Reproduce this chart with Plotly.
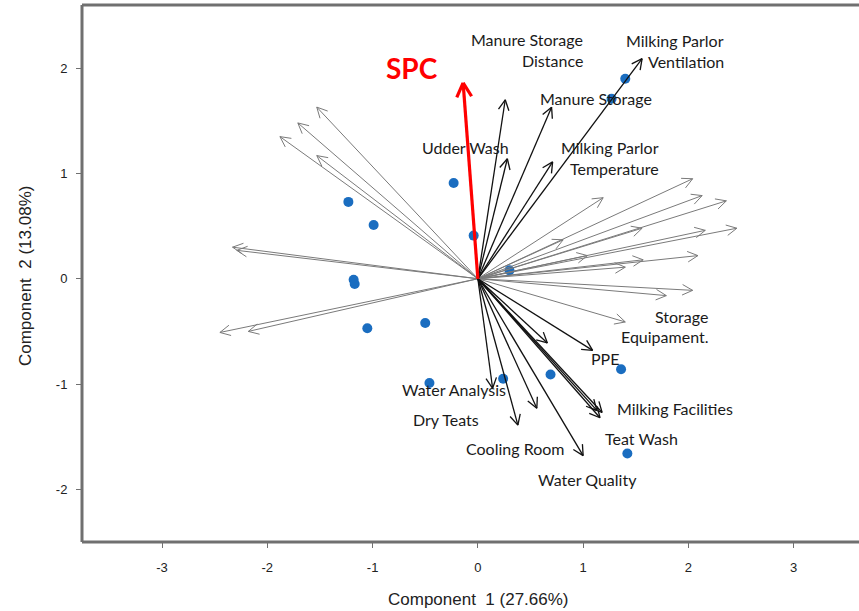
import math
import plotly.graph_objects as go

# ---- data ----
gray_x = [-1.53, -1.71, -1.88, -1.53, -2.33, -2.29, -2.45, -2.18,
          2.04, 1.19, 2.13, 2.36, 1.56, 2.16, 2.46, 0.81, 1.04, 2.09,
          1.57, 1.40, 2.04, 1.79, 1.40]
gray_y = [1.63, 1.48, 1.35, 1.17, 0.30, 0.27, -0.51, -0.50,
          0.95, 0.77, 0.79, 0.74, 0.48, 0.46, 0.48, 0.37, 0.22, 0.22,
          0.18, 0.11, -0.11, -0.16, -0.41]

black_x = [0.26, 0.28, 0.70, 0.71, 1.56,
           0.14, 0.38, 0.56, 1.00, 1.13, 1.16, 1.18, 0.66, 1.09]
black_y = [1.70, 1.14, 1.63, 1.11, 2.09,
           -1.04, -1.39, -1.23, -1.68, -1.25, -1.32, -1.27, -0.61, -0.68]

spc_x = [-0.14]
spc_y = [1.86]

points_x = [1.40, 1.27, -0.23, -1.23, -0.99, -0.04, 0.30, -1.18, -1.17,
            -1.05, -0.50, -0.46, 0.24, 0.69, 1.36, 1.42]
points_y = [1.90, 1.71, 0.91, 0.73, 0.51, 0.41, 0.08, -0.01, -0.05,
            -0.47, -0.42, -0.99, -0.95, -0.91, -0.86, -1.66]

label_text = ["Manure Storage", "Distance", "Milking Parlor", "Ventilation",
              "Manure Storage", "Udder Wash", "Milking Parlor", "Temperature",
              "Storage", "Equipament.", "PPE", "Water Analysis", "Dry Teats",
              "Milking Facilities", "Teat Wash", "Cooling Room", "Water Quality"]
label_x = [1.02, 1.02, 2.36, 2.36, 1.12, -0.12, 1.74, 1.74, 2.20, 2.20,
           1.21, -0.23, -0.30, 1.87, 1.55, 0.35, 1.04]
label_y = [2.27, 2.07, 2.26, 2.06, 1.71, 1.25, 1.25, 1.05, -0.36, -0.55,
           -0.76, -1.05, -1.34, -1.23, -1.52, -1.61, -1.91]
label_anchor = ["right", "right", "right", "right", "center", "center",
                "right", "right", "right", "right", "center", "center",
                "center", "center", "center", "center", "center"]

x_ticks = [-3, -2, -1, 0, 1, 2, 3]
x_tick_text = ["-3", "-2", "-1", "0", "1", "2", "3"]
y_ticks = [-2, -1, 0, 1, 2]
y_tick_text = ["-2", "-1", "0", "1", "2"]


def arrow_path(xs, ys, head=0.11, ang=27):
    px, py = [], []
    a = math.radians(ang)
    for x, y in zip(xs, ys):
        n = math.hypot(x, y)
        dx, dy = x / n, y / n
        px += [0, x, None]
        py += [0, y, None]
        for s in (a, -a):
            rx = dx * math.cos(s) - dy * math.sin(s)
            ry = dx * math.sin(s) + dy * math.cos(s)
            px += [x - head * rx, x, None]
            py += [y - head * ry, y, None]
    return px, py


fig = go.Figure()

fig.add_trace(go.Scatter(x=points_x, y=points_y, mode="markers",
                         marker=dict(size=10, color="#1a6dc0"),
                         hoverinfo="skip", showlegend=False))

gx, gy = arrow_path(gray_x, gray_y)
fig.add_trace(go.Scatter(x=gx, y=gy, mode="lines",
                         line=dict(color="#7a7a7a", width=1),
                         hoverinfo="skip", showlegend=False))

bx, by = arrow_path(black_x, black_y)
fig.add_trace(go.Scatter(x=bx, y=by, mode="lines",
                         line=dict(color="#111111", width=1.3),
                         hoverinfo="skip", showlegend=False))

sx, sy = arrow_path(spc_x, spc_y, head=0.15, ang=28)
fig.add_trace(go.Scatter(x=sx, y=sy, mode="lines",
                         line=dict(color="#ff0000", width=3.2),
                         hoverinfo="skip", showlegend=False))

for t, x, y, anc in zip(label_text, label_x, label_y, label_anchor):
    fig.add_annotation(x=x, y=y, xref="x", yref="y", text=t, showarrow=False,
                       xanchor=anc, yanchor="middle",
                       font=dict(family="Lato", size=16, color="#1a1a1a"))

fig.add_annotation(x=-0.63, y=2.00, xref="x", yref="y", text="<b>SPC</b>",
                   showarrow=False, xanchor="center", yanchor="middle",
                   font=dict(family="Lato", size=28, color="#ff0000"))

fig.add_annotation(x=0.51, y=-0.108, xref="paper", yref="paper",
                   text="Component  1 (27.66%)", showarrow=False,
                   xanchor="center", yanchor="middle",
                   font=dict(family="Liberation Sans", size=17, color="#222222"))
fig.add_annotation(x=-0.0734, y=0.497, xref="paper", yref="paper",
                   text="Component  2 (13.08%)", showarrow=False, textangle=-90,
                   xanchor="center", yanchor="middle",
                   font=dict(family="Liberation Sans", size=17, color="#222222"))

box = dict(color="#707070", width=3)
fig.add_shape(type="line", xref="paper", yref="paper", x0=0, x1=0, y0=0, y1=1, line=box)
fig.add_shape(type="line", xref="paper", yref="paper", x0=0, x1=1, y0=0, y1=0, line=box)
fig.add_shape(type="line", xref="paper", yref="paper", x0=0, x1=1, y0=1, y1=1, line=box)

fig.update_xaxes(range=[-3.76, 3.62], tickvals=x_ticks, ticktext=x_tick_text,
                 ticks="outside", ticklen=5, tickcolor="#707070",
                 showgrid=False, zeroline=False, showline=False,
                 ticklabelstandoff=8,
                 tickfont=dict(family="Liberation Sans", size=13, color="#222222"))
fig.update_yaxes(range=[-2.50, 2.60], tickvals=y_ticks, ticktext=y_tick_text,
                 ticks="outside", ticklen=5, tickcolor="#707070",
                 showgrid=False, zeroline=False, showline=False,
                 ticklabelstandoff=6,
                 tickfont=dict(family="Liberation Sans", size=13, color="#222222"))

fig.update_layout(width=859, height=611,
                  margin=dict(l=82, r=0, t=5, b=69),
                  plot_bgcolor="white", paper_bgcolor="white")

fig.write_html("out.html", config={"displayModeBar": False},
               post_script="document.body.style.margin='0';document.body.style.overflow='hidden';")
